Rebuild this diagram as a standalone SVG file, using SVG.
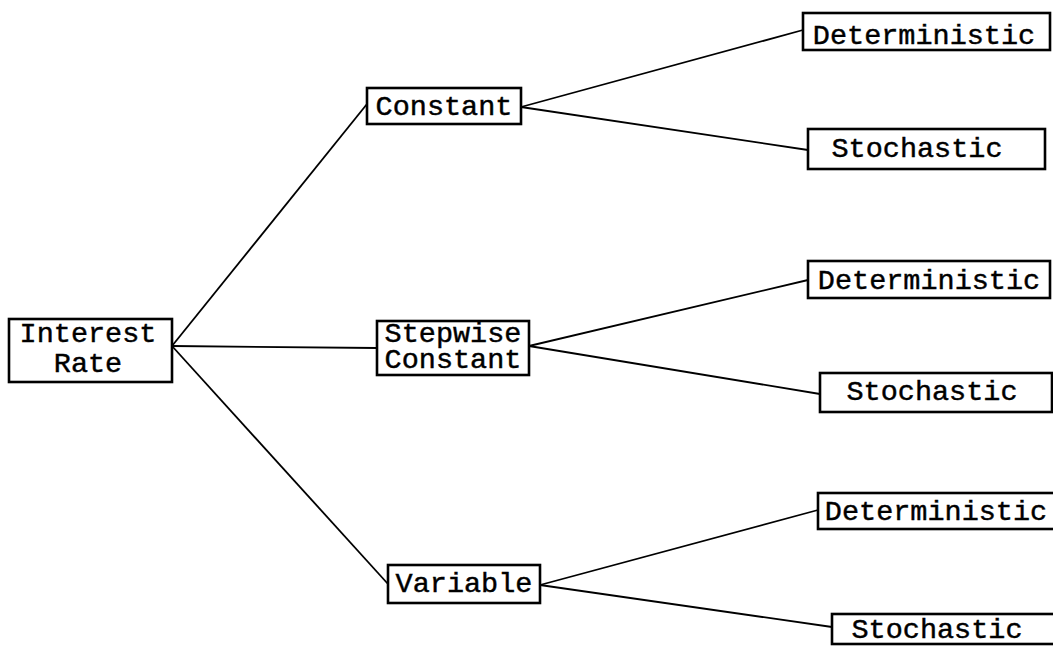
<svg xmlns="http://www.w3.org/2000/svg" width="1053" height="647" viewBox="0 0 1053 647">
<style>
.box{fill:#fff;stroke:#000;stroke-width:2.6}
.t{font-family:"Liberation Mono",monospace;font-size:28.5px;fill:#000;text-anchor:middle;stroke:#000;stroke-width:0.45}
.ln{stroke:#000;stroke-width:1.8;fill:none}
</style>
<rect width="1053" height="647" fill="#fff"/>
<g id="connectors">
<line class="ln" x1="172" y1="346" x2="367" y2="104"/>
<line class="ln" x1="172" y1="346" x2="377" y2="348"/>
<line class="ln" x1="172" y1="346" x2="388" y2="584"/>
<line class="ln" x1="521" y1="107" x2="803" y2="30"/>
<line class="ln" x1="521" y1="107" x2="808" y2="150"/>
<line class="ln" x1="529" y1="346" x2="808" y2="280"/>
<line class="ln" x1="529" y1="346" x2="820" y2="394"/>
<line class="ln" x1="540" y1="585" x2="818" y2="510"/>
<line class="ln" x1="540" y1="585" x2="832" y2="627"/>
</g>
<g id="interest-rate">
<rect class="box" x="9" y="319" width="163" height="63"/>
<text class="t" x="88" y="342">Interest</text>
<text class="t" x="88" y="372">Rate</text>
</g>
<g id="constant">
<rect class="box" x="367" y="88" width="154" height="36"/>
<text class="t" x="444" y="115">Constant</text>
</g>
<g id="stepwise">
<rect class="box" x="377" y="321" width="152" height="54"/>
<text class="t" x="453" y="342">Stepwise</text>
<text class="t" x="453" y="368">Constant</text>
</g>
<g id="variable">
<rect class="box" x="388" y="565" width="152" height="38"/>
<text class="t" x="464" y="592">Variable</text>
</g>
<g id="det1">
<rect class="box" x="803" y="13" width="247" height="37"/>
<text class="t" x="924" y="44">Deterministic</text>
</g>
<g id="sto1">
<rect class="box" x="808" y="129" width="237" height="40"/>
<text class="t" x="917" y="157">Stochastic</text>
</g>
<g id="det2">
<rect class="box" x="808" y="261" width="242" height="37"/>
<text class="t" x="929" y="289">Deterministic</text>
</g>
<g id="sto2">
<rect class="box" x="820" y="373" width="232" height="39"/>
<text class="t" x="932" y="400">Stochastic</text>
</g>
<g id="det3">
<rect class="box" x="818" y="493" width="240" height="36"/>
<text class="t" x="936" y="520">Deterministic</text>
</g>
<g id="sto3">
<rect class="box" x="832" y="614" width="230" height="30"/>
<text class="t" x="937" y="638">Stochastic</text>
</g>
</svg>
